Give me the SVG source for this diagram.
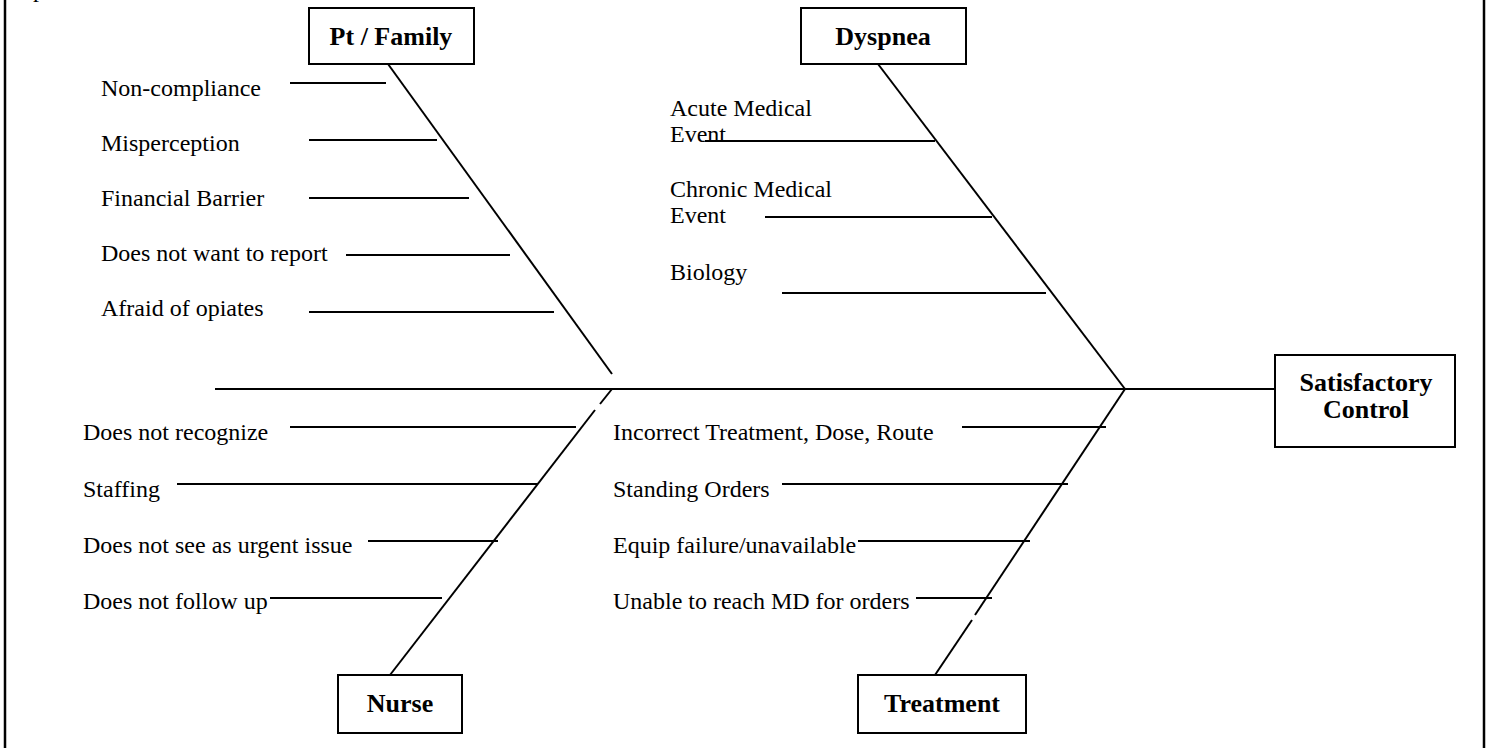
<svg xmlns="http://www.w3.org/2000/svg" width="1491" height="748" viewBox="0 0 1491 748">
<style>
.bg{fill:#fff}
.frame{stroke:#000;stroke-width:2.5;fill:none}
.box{fill:#fff;stroke:#000;stroke-width:2}
.ln{stroke:#000;stroke-width:2;fill:none}
.lbl{font-family:"Liberation Serif","Times New Roman",serif;font-size:24px;fill:#000}
.hd{font-family:"Liberation Serif","Times New Roman",serif;font-size:26px;font-weight:bold;fill:#000;text-anchor:middle}
</style>
<rect class="bg" x="0" y="0" width="1491" height="748"/>
<g id="frame">
<line class="frame" x1="5" y1="0" x2="5" y2="748"/>
<line class="frame" x1="1484" y1="0" x2="1484" y2="748"/>
<text class="lbl" x="33" y="-3">p</text>
</g>
<g id="connectors">
<line class="ln" x1="215" y1="389" x2="1275" y2="389"/>
<line class="ln" x1="388" y1="64" x2="612" y2="374"/>
<line class="ln" x1="878" y1="64" x2="1125" y2="389"/>
<line class="ln" x1="612" y1="389" x2="600" y2="404"/>
<line class="ln" x1="595" y1="410" x2="390" y2="675"/>
<line class="ln" x1="1125" y1="389" x2="975" y2="615"/>
<line class="ln" x1="972" y1="620" x2="935" y2="675"/>
<line class="ln" x1="290" y1="83" x2="386" y2="83"/>
<line class="ln" x1="309" y1="140" x2="437" y2="140"/>
<line class="ln" x1="309" y1="198" x2="469" y2="198"/>
<line class="ln" x1="346" y1="255" x2="510" y2="255"/>
<line class="ln" x1="309" y1="312" x2="554" y2="312"/>
<line class="ln" x1="705" y1="141" x2="935" y2="141"/>
<line class="ln" x1="765" y1="217" x2="992" y2="217"/>
<line class="ln" x1="782" y1="293" x2="1046" y2="293"/>
<line class="ln" x1="290" y1="427" x2="576" y2="427"/>
<line class="ln" x1="177" y1="484" x2="538" y2="484"/>
<line class="ln" x1="368" y1="541" x2="498" y2="541"/>
<line class="ln" x1="270" y1="598" x2="442" y2="598"/>
<line class="ln" x1="962" y1="427" x2="1106" y2="427"/>
<line class="ln" x1="782" y1="484" x2="1068" y2="484"/>
<line class="ln" x1="858" y1="541" x2="1030" y2="541"/>
<line class="ln" x1="916" y1="598" x2="992" y2="598"/>
</g>
<g id="labels">
<text class="lbl" x="101" y="96">Non-compliance</text>
<text class="lbl" x="101" y="151">Misperception</text>
<text class="lbl" x="101" y="206">Financial Barrier</text>
<text class="lbl" x="101" y="261">Does not want to report</text>
<text class="lbl" x="101" y="316">Afraid of opiates</text>
<text class="lbl" x="670" y="116">Acute Medical</text>
<text class="lbl" x="670" y="142">Event</text>
<text class="lbl" x="670" y="197">Chronic Medical</text>
<text class="lbl" x="670" y="223">Event</text>
<text class="lbl" x="670" y="280">Biology</text>
<text class="lbl" x="83" y="440">Does not recognize</text>
<text class="lbl" x="83" y="497">Staffing</text>
<text class="lbl" x="83" y="553">Does not see as urgent issue</text>
<text class="lbl" x="83" y="609">Does not follow up</text>
<text class="lbl" x="613" y="440">Incorrect Treatment, Dose, Route</text>
<text class="lbl" x="613" y="497">Standing Orders</text>
<text class="lbl" x="613" y="553">Equip failure/unavailable</text>
<text class="lbl" x="613" y="609">Unable to reach MD for orders</text>
</g>
<g id="node-ptfamily">
<rect class="box" x="309" y="8" width="165" height="56"/>
<text class="hd" x="391" y="45">Pt / Family</text>
</g>
<g id="node-dyspnea">
<rect class="box" x="801" y="8" width="165" height="56"/>
<text class="hd" x="883" y="45">Dyspnea</text>
</g>
<g id="node-nurse">
<rect class="box" x="338" y="675" width="124" height="58"/>
<text class="hd" x="400" y="712">Nurse</text>
</g>
<g id="node-treatment">
<rect class="box" x="858" y="675" width="168" height="58"/>
<text class="hd" x="942" y="712">Treatment</text>
</g>
<g id="node-satisfactory">
<rect class="box" x="1275" y="355" width="180" height="92"/>
<text class="hd" x="1366" y="391">Satisfactory</text>
<text class="hd" x="1366" y="418">Control</text>
</g>
</svg>
